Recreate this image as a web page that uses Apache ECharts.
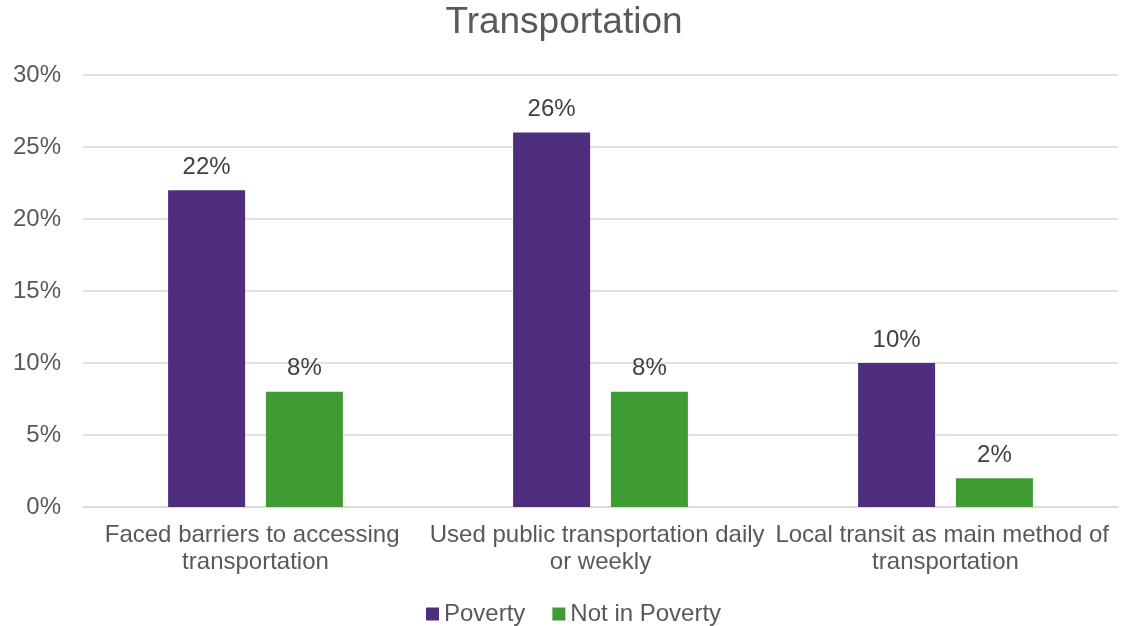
<!DOCTYPE html>
<html>
<head>
<meta charset="utf-8">
<script src="https://cdn.jsdelivr.net/npm/echarts@6/dist/echarts.min.js"></script>
<style>
  html, body { margin: 0; padding: 0; background: #fff; }
  #chart { width: 1128px; height: 626px; }
</style>
</head>
<body>
<div id="chart"></div>
<script>
const categories = [
  'Faced barriers to accessing transportation',
  'Used public transportation daily or weekly',
  'Local transit as main method of transportation'
];
const poverty = [22, 26, 10];
const notInPoverty = [8, 8, 2];
const yTicks = [0, 5, 10, 15, 20, 25, 30];

const FONT = '"Liberation Sans", Arial, sans-serif';
const FS = 24;
const chart = echarts.init(document.getElementById('chart'));

const labelStyle = {
  show: true,
  position: 'top',
  distance: 11,
  formatter: p => p.value + '%',
  color: '#404040',
  fontSize: FS,
  fontFamily: FONT
};

chart.setOption({
  animation: false,
  title: {
    text: 'Transportation',
    left: 'center',
    top: -1,
    textStyle: { color: '#595959', fontSize: 37, fontWeight: 'normal', fontFamily: FONT }
  },
  legend: {
    top: 602,
    left: 426,
    itemWidth: 13,
    itemHeight: 13,
    itemGap: 27,
    icon: 'rect',
    padding: 0,
    textStyle: { color: '#595959', fontSize: FS, fontFamily: FONT },
    data: ['Poverty', 'Not in Poverty']
  },
  grid: { left: 83, right: 10, top: 75, bottom: 119, containLabel: false },
  xAxis: {
    type: 'category',
    data: categories,
    axisTick: { show: false },
    axisLine: { lineStyle: { color: '#d9d9d9', width: 1.5 } },
    axisLabel: {
      color: '#595959',
      fontSize: FS,
      fontFamily: FONT,
      margin: 15,
      lineHeight: 27,
      width: 344,
      overflow: 'break',
      interval: 0
    }
  },
  yAxis: {
    type: 'value',
    min: yTicks[0],
    max: yTicks[yTicks.length - 1],
    interval: 5,
    axisLine: { show: false },
    axisTick: { show: false },
    axisLabel: {
      formatter: v => v + '%',
      color: '#595959',
      fontSize: FS,
      fontFamily: FONT,
      margin: 22
    },
    splitLine: { lineStyle: { color: '#d9d9d9', width: 1.5 } }
  },
  series: [
    {
      name: 'Poverty',
      type: 'bar',
      data: poverty,
      barWidth: 77,
      barGap: '27%',
      itemStyle: { color: '#4f2d7f' },
      label: labelStyle
    },
    {
      name: 'Not in Poverty',
      type: 'bar',
      data: notInPoverty,
      barWidth: 77,
      itemStyle: { color: '#3f9c35' },
      label: labelStyle
    }
  ]
});
</script>
</body>
</html>
